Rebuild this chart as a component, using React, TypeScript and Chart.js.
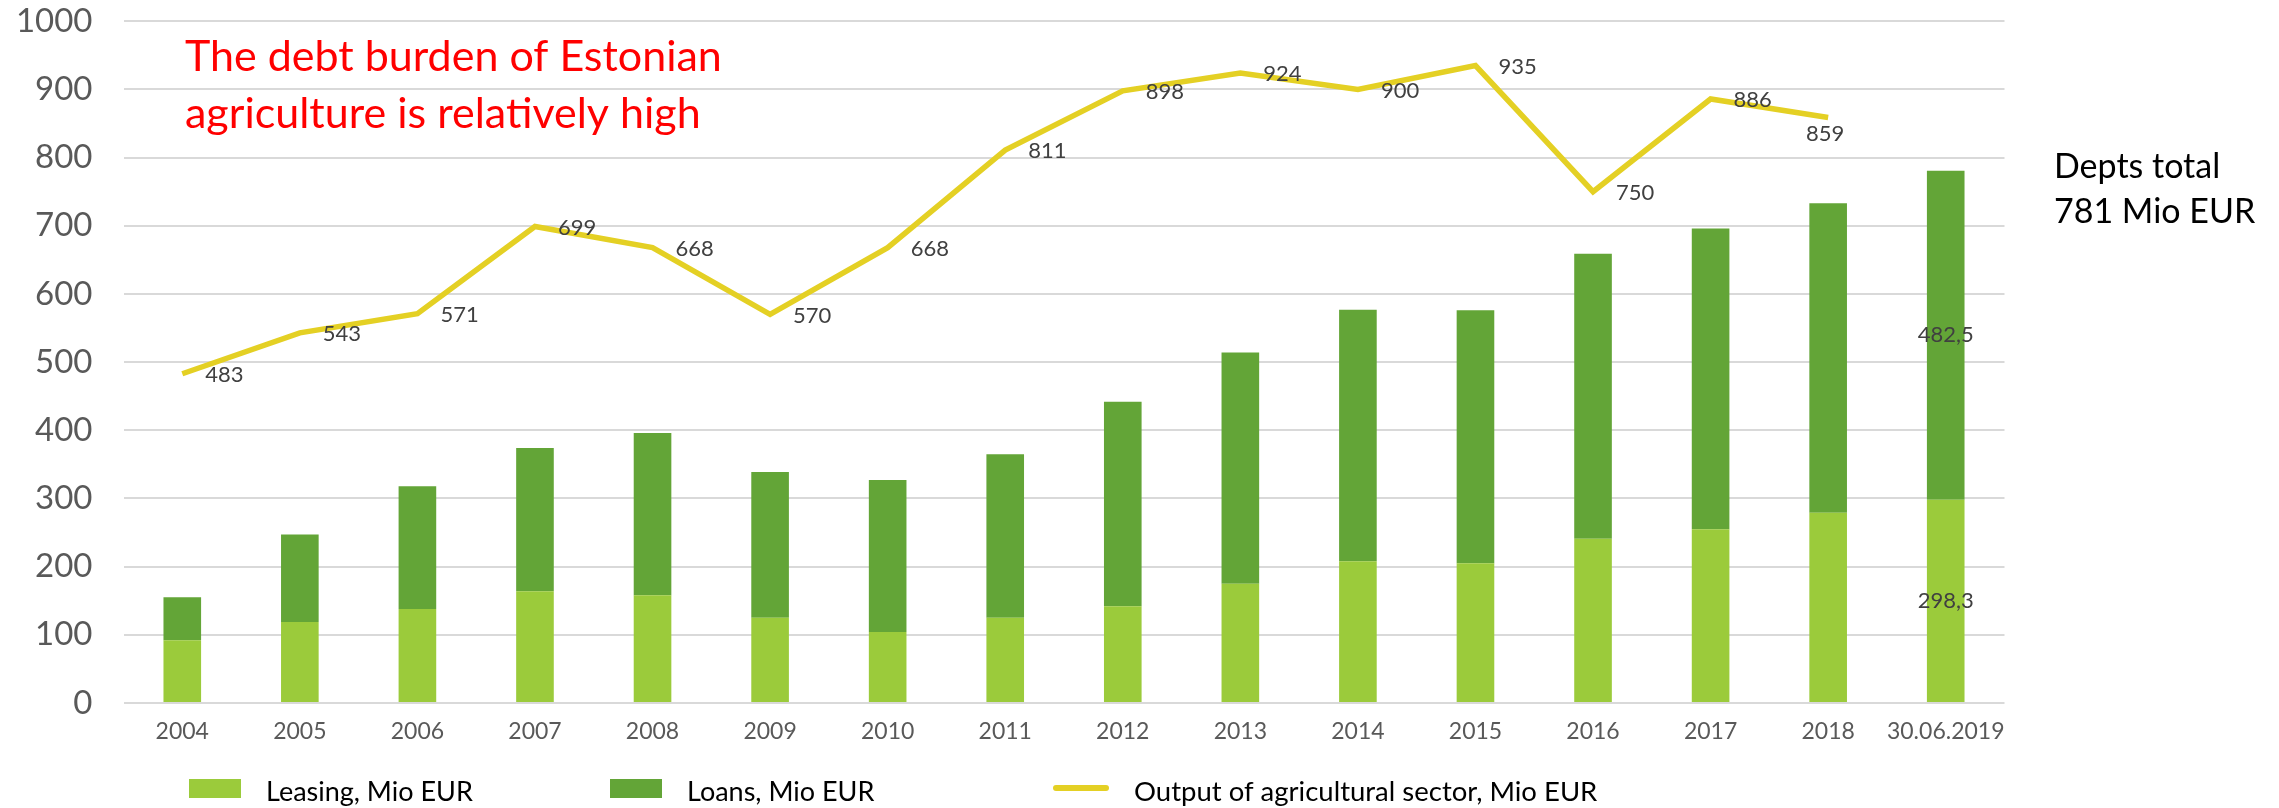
import React, { useEffect, useRef } from 'react';
import { Chart, registerables } from 'chart.js';

Chart.register(...registerables);

// ---------- data ----------
const categories = [
  '2004', '2005', '2006', '2007', '2008', '2009', '2010', '2011',
  '2012', '2013', '2014', '2015', '2016', '2017', '2018', '30.06.2019',
];
const leasing = [92, 119, 138, 164, 158, 125, 104, 125, 142, 175, 208, 205, 241, 255, 279, 298.3];
const loans = [63, 128, 180, 210, 238, 214, 223, 240, 300, 339, 369, 371, 418, 441, 454, 482.5];
const output = [483, 543, 571, 699, 668, 570, 668, 811, 898, 924, 900, 935, 750, 886, 859, null];

const seriesNames = ['Leasing, Mio EUR', 'Loans, Mio EUR', 'Output of agricultural sector, Mio EUR'];
const titleLines = ['The debt burden of Estonian', 'agriculture is relatively high'];
const noteLines = ['Depts total', '781 Mio EUR'];
const annotatedCategory = '30.06.2019';
const labelBelowCategories = ['2018'];
const yMin = 0;
const yMax = 1000;
const yStep = 100;

// ---------- styles ----------
const FONT = 'Lato, "Open Sans", "DejaVu Sans", sans-serif';
const LEASING_COLOR = '#9BCB3B';
const LOANS_COLOR = '#63A537';
const LINE_COLOR = '#E4D024';

const fmtComma = (v: number) => v.toFixed(1).replace('.', ',');

const overlayPlugin = {
  id: 'overlay',
  afterDatasetsDraw(chart: any) {
    const ctx = chart.ctx as CanvasRenderingContext2D;
    ctx.save();
    // line value labels
    ctx.font = `22px ${FONT}`;
    ctx.fillStyle = '#404040';
    ctx.textBaseline = 'middle';
    const lineMeta = chart.getDatasetMeta(2);
    lineMeta.data.forEach((pt: any, i: number) => {
      const v = output[i];
      if (v == null) return;
      if (labelBelowCategories.includes(categories[i])) {
        ctx.textAlign = 'center';
        ctx.fillText(String(v), pt.x - 3, pt.y + 16);
      } else {
        ctx.textAlign = 'left';
        ctx.fillText(String(v), pt.x + 23, pt.y + 1);
      }
    });
    // bar labels for annotated category
    const idx = categories.indexOf(annotatedCategory);
    ctx.textAlign = 'center';
    [0, 1].forEach((di) => {
      const el = chart.getDatasetMeta(di).data[idx];
      const v = chart.data.datasets[di].data[idx] as number;
      const p = el.getProps(['x', 'y', 'base'], true);
      ctx.fillText(fmtComma(v), p.x, (p.y + p.base) / 2);
    });
    ctx.restore();
  },
  afterDraw(chart: any) {
    const ctx = chart.ctx as CanvasRenderingContext2D;
    ctx.save();
    // title annotation
    ctx.font = `43px ${FONT}`;
    ctx.fillStyle = '#FF0000';
    ctx.textAlign = 'left';
    ctx.textBaseline = 'alphabetic';
    ctx.fillText(titleLines[0], 185, 71);
    ctx.fillText(titleLines[1], 185, 128);
    // note on right
    ctx.font = `34px ${FONT}`;
    ctx.fillStyle = '#000000';
    ctx.fillText(noteLines[0], 2054, 178);
    ctx.fillText(noteLines[1], 2054, 223);
    // legend
    const slots = [189, 610, 1053];
    ctx.font = `27px ${FONT}`;
    chart.data.datasets.forEach((ds: any, i: number) => {
      const x0 = slots[i];
      if (ds.type === 'line') {
        ctx.strokeStyle = ds.borderColor;
        ctx.lineWidth = 6;
        ctx.lineCap = 'round';
        ctx.beginPath();
        ctx.moveTo(x0 + 3, 788);
        ctx.lineTo(x0 + 53, 788);
        ctx.stroke();
        ctx.fillStyle = '#000000';
        ctx.font = `27.5px ${FONT}`;
        ctx.fillText(ds.label, x0 + 81, 801);
      } else {
        ctx.fillStyle = ds.backgroundColor;
        ctx.fillRect(x0, 779, 52, 19);
        ctx.fillStyle = '#000000';
        ctx.fillText(ds.label, x0 + 77, 801);
      }
    });
    ctx.restore();
  },
};

export default function App() {
  const ref = useRef<HTMLCanvasElement>(null);
  useEffect(() => {
    document.body.style.margin = '0';
    const chart = new Chart(ref.current as HTMLCanvasElement, {
      type: 'bar',
      data: {
        labels: categories,
        datasets: [
          {
            type: 'bar',
            label: seriesNames[0],
            data: leasing,
            backgroundColor: LEASING_COLOR,
            stack: 'debt',
            order: 2,
            barPercentage: 0.32,
            categoryPercentage: 1,
          } as any,
          {
            type: 'bar',
            label: seriesNames[1],
            data: loans,
            backgroundColor: LOANS_COLOR,
            stack: 'debt',
            order: 2,
            barPercentage: 0.32,
            categoryPercentage: 1,
          } as any,
          {
            type: 'line',
            label: seriesNames[2],
            data: output,
            borderColor: LINE_COLOR,
            backgroundColor: LINE_COLOR,
            borderWidth: 5.5,
            pointRadius: 0,
            tension: 0,
            fill: false,
            spanGaps: false,
            order: 1,
          } as any,
        ],
      },
      options: {
        responsive: false,
        animation: false,
        devicePixelRatio: 1,
        layout: { padding: { left: 0, right: 274.5, top: 21.3, bottom: 0 } },
        plugins: {
          legend: { display: false },
          tooltip: { enabled: false },
        },
        scales: {
          x: {
            stacked: true,
            grid: { display: false, drawTicks: false },
            border: { display: false },
            ticks: {
              autoSkip: false,
              maxRotation: 0,
              padding: 15,
              color: '#595959',
              font: { family: FONT, size: 23 },
            },
            afterFit: (scale: any) => { scale.height = 105; },
          },
          y: {
            stacked: true,
            min: yMin,
            max: yMax,
            grid: { color: '#D9D9D9', lineWidth: 2, drawTicks: false },
            border: { display: false },
            ticks: {
              stepSize: yStep,
              padding: 31,
              color: '#595959',
              font: { family: FONT, size: 33 },
              callback: (v: any) => String(v),
            },
            afterFit: (scale: any) => {
              scale.width = 123.5;
              scale.paddingTop = 0;
              scale.paddingBottom = 0;
            },
          },
        },
      },
      plugins: [overlayPlugin],
    });
    return () => chart.destroy();
  }, []);
  return (
    <canvas
      ref={ref}
      width={2279}
      height={808}
      style={{ display: 'block', width: 2279, height: 808 }}
    />
  );
}
